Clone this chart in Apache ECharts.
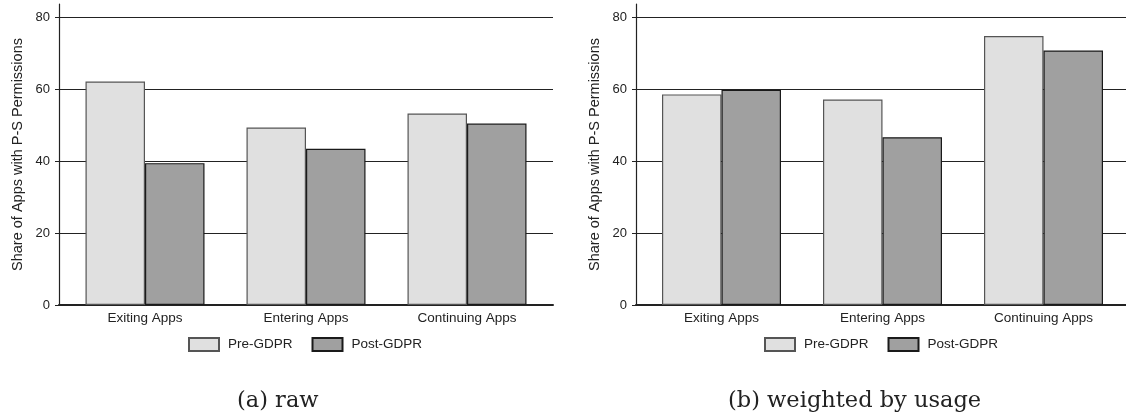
<!DOCTYPE html>
<html><head><meta charset="utf-8">
<script src="https://cdn.jsdelivr.net/npm/echarts@6/dist/echarts.min.js"></script>
<style>html,body{margin:0;padding:0;background:#fff}#c{width:1126px;height:416px}</style>
</head><body><div id="c"></div>
<script>
const categories = ['Exiting Apps', 'Entering Apps', 'Continuing Apps'];
const seriesNames = ['Pre-GDPR', 'Post-GDPR'];
const rawPre = [62.1, 49.3, 53.2];
const rawPost = [39.4, 43.4, 50.4];
const weightedPre = [58.5, 57.1, 74.7];
const weightedPost = [59.8, 46.6, 70.7];
const yTicks = [0, 20, 40, 60, 80];
const captions = ['(a) raw', '(b) weighted by usage'];

const FONT = 'Liberation Sans, Arial, sans-serif';
const preStyle = {color: '#e0e0e0', borderColor: '#555', borderWidth: 1.2};
const postStyle = {color: '#a0a0a0', borderColor: '#1a1a1a', borderWidth: 1.2};

const panels = [
  {axisLeft: 59, gridW: 494, barLeft: 64.5, barW: 483, pre: rawPre, post: rawPost, legendLeft: 188, cap: captions[0], capLeft: 237},
  {axisLeft: 636, gridW: 490, barLeft: 641, barW: 483, pre: weightedPre, post: weightedPost, legendLeft: 764, cap: captions[1], capLeft: 728}
];

const grid = [], xAxis = [], yAxis = [], series = [], legend = [], title = [];
panels.forEach((p, i) => {
  const b = i * 3;
  grid.push({left: p.axisLeft, top: 4, width: p.gridW, height: 301});
  grid.push({left: p.axisLeft, top: 17, width: p.gridW, height: 288});
  grid.push({left: p.barLeft, top: 17, width: p.barW, height: 288});

  xAxis.push({type: 'category', gridIndex: b, data: categories, axisLine: {show: true, lineStyle: {color: '#222', width: 2}}, axisTick: {show: false}, axisLabel: {show: false}});
  xAxis.push({type: 'category', gridIndex: b + 1, data: categories, show: false});
  xAxis.push({type: 'category', gridIndex: b + 2, data: categories, axisLine: {show: false}, axisTick: {show: false},
    axisLabel: {show: true, fontFamily: FONT, fontSize: 13.5, color: '#222', margin: 6}});

  yAxis.push({type: 'value', gridIndex: b, min: 0, max: 1, axisLine: {show: true, lineStyle: {color: '#222', width: 1.2}}, axisTick: {show: false}, axisLabel: {show: false}, splitLine: {show: false},
    name: 'Share of Apps with P-S Permissions', nameLocation: 'middle', nameGap: 34, nameRotate: 90,
    nameTextStyle: {fontFamily: FONT, fontSize: 14.5, color: '#222'}});
  yAxis.push({type: 'value', gridIndex: b + 1, min: yTicks[0], max: yTicks[yTicks.length - 1], interval: 20,
    axisLine: {show: false}, axisTick: {show: true, length: 4, lineStyle: {color: '#222'}},
    axisLabel: {fontFamily: FONT, fontSize: 13, color: '#222', margin: 9},
    splitLine: {show: true, lineStyle: {color: '#222', width: 1}}});
  yAxis.push({type: 'value', gridIndex: b + 2, min: 0, max: 80, show: false});

  series.push({name: seriesNames[0], type: 'bar', xAxisIndex: b + 2, yAxisIndex: b + 2, data: p.pre, barWidth: 59.5, barGap: '0%', itemStyle: preStyle, silent: true});
  series.push({name: seriesNames[1], type: 'bar', xAxisIndex: b + 2, yAxisIndex: b + 2, data: p.post, barWidth: 59.5, barGap: '0%', itemStyle: postStyle, silent: true});

  legend.push({left: p.legendLeft, top: 337, padding: 0, itemWidth: 30, itemHeight: 13, itemGap: 19, icon: 'rect',
    data: seriesNames, textStyle: {fontFamily: FONT, fontSize: 13.5, color: '#222', padding: [0, 0, 0, 4]}});
  title.push({text: p.cap, left: p.capLeft, top: 390, padding: 0, textStyle: {fontFamily: 'DejaVu Serif, serif', fontSize: 22.5, fontWeight: 'normal', color: '#222'}});
});

const chart = echarts.init(document.getElementById('c'), null, {renderer: 'canvas'});
chart.setOption({animation: false, backgroundColor: '#fff', grid, xAxis, yAxis, series, legend, title});
</script></body></html>
